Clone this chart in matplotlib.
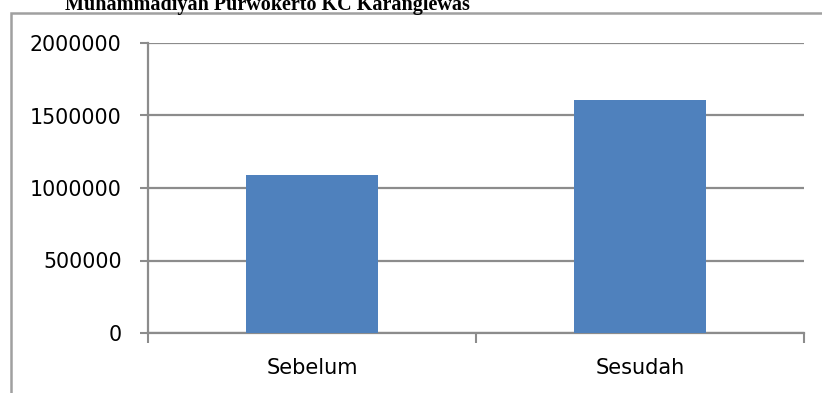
import matplotlib.pyplot as plt
from matplotlib.patches import Rectangle

kategori = ['Sebelum', 'Sesudah']
nilai = [1090000, 1610000]
yticks = [0, 500000, 1000000, 1500000, 2000000]
judul = 'Muhammadiyah Purwokerto KC Karanglewas'

W, H = 822, 393
fig = plt.figure(figsize=(W / 100, H / 100), dpi=100)
ax = fig.add_axes([148 / W, 60 / H, 656 / W, 290 / H])

grey = '#8c8c8c'
pos = [0.5, 1.5]
ax.bar(pos, nilai, width=0.4, color='#4f81bd', zorder=3)

ax.set_xlim(0, 2)
ax.set_ylim(0, 2000000)
ax.set_yticks(yticks)
ax.set_yticklabels([str(v) for v in yticks])
ax.set_xticks(pos)
ax.set_xticklabels(kategori)
ax.set_xticks([0, 1, 2], minor=True)
ax.tick_params(axis='x', which='major', length=0, pad=18, labelsize=15)
ax.tick_params(axis='x', which='minor', length=7, width=1.5, color=grey)
ax.tick_params(axis='y', length=6, width=1.5, color=grey, pad=13, labelsize=14.8)

ax.grid(axis='y', color=grey, linewidth=1.6, zorder=0)
for s in ['top', 'right']:
    ax.spines[s].set_visible(False)
for s in ['left', 'bottom']:
    ax.spines[s].set_color(grey)
    ax.spines[s].set_linewidth(1.6)

# outer chart frame, cut off by the page edges
fig.patches.append(Rectangle((11 / W, -0.2), 1.2, (H - 13) / H + 0.2,
                             transform=fig.transFigure, fill=False,
                             edgecolor='#a0a0a0', linewidth=1.8))

fig.text(267 / W, (H - 10) / H, judul, ha='center', va='baseline',
         family='Liberation Serif', fontweight='bold', fontsize=14.5)

fig.savefig('out.png', dpi=100)
